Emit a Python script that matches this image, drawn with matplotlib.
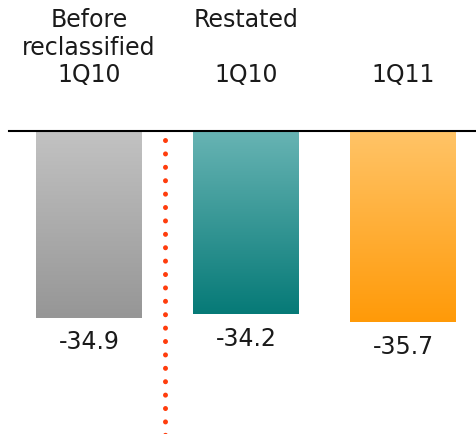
import matplotlib
matplotlib.use("Agg")
import matplotlib.pyplot as plt
import numpy as np
from matplotlib.colors import LinearSegmentedColormap

# data
header_top = ["Before", "Restated", ""]
header_mid = ["reclassified", "", ""]
quarters = ["1Q10", "1Q10", "1Q11"]
values = [-34.9, -34.2, -35.7]
top_colors = ["#C2C2C2", "#68B4B4", "#FFC468"]
bottom_colors = ["#969696", "#067A77", "#FF9A08"]

fig = plt.figure(figsize=(4.76, 4.35), dpi=100)
ax = fig.add_axes([0, 0, 1, 1])
ax.set_xlim(-0.567, 2.465)
ax.set_ylim(-56.6, 24.67)
ax.axis("off")

x = np.arange(len(values))
bars = ax.bar(x, values, width=0.675, color="none", edgecolor="none")

# gradient fills
grad = np.linspace(0, 1, 256).reshape(-1, 1)
for b, c1, c2 in zip(bars, top_colors, bottom_colors):
    cmap = LinearSegmentedColormap.from_list("g", [c1, c2])
    x0, y0 = b.get_x(), b.get_y()
    w, h = b.get_width(), b.get_height()
    im = ax.imshow(grad, cmap=cmap, aspect="auto",
                   extent=[x0, x0 + w, y0 + h, y0], zorder=2)
    im.set_clip_path(b)

# baseline
ax.axhline(0, xmin=0.019, xmax=1, color="black", lw=1.5, zorder=3)

# dotted separator
ax.plot([0.481, 0.481], [-1.7, -57], color="#FF3D0D", lw=3.6,
        linestyle=(0, (0.01, 2.67)), dash_capstyle="round", zorder=3)

# value labels
for xi, v in zip(x, values):
    ax.annotate(f"{v:.1f}", (xi, v), xytext=(0, -17), textcoords="offset points",
                ha="center", va="center", fontsize=17, color="#1a1a1a")

# period labels at the top
for xi, t1, t2, q in zip(x, header_top, header_mid, quarters):
    for yy, t in zip([20.9, 15.7, 10.65], [t1, t2, q]):
        ax.text(xi, yy, t, ha="center", va="center", fontsize=17, color="#1a1a1a")

fig.savefig("out.png", dpi=100)
